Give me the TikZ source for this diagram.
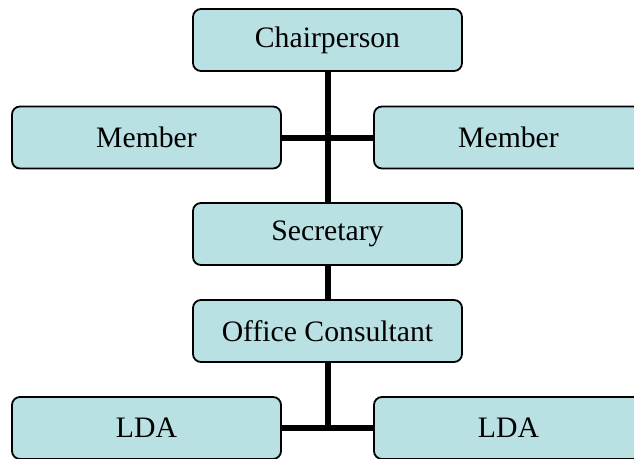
\documentclass[tikz,border=0pt]{standalone}
\usepackage{fontspec}
\setmainfont{Liberation Serif}
\usetikzlibrary{backgrounds}
\definecolor{boxfill}{RGB}{185,224,227}
\begin{document}
\begin{tikzpicture}[x=1pt,y=1pt,
  orgbox/.style={draw=black, line width=1.8pt, fill=boxfill, rounded corners=8pt,
    minimum width=269pt, minimum height=62pt, inner sep=0pt,
    font=\fontsize{29.7}{34}\selectfont},
  link/.style={line width=6pt, black}]
\clip (0,0) rectangle (634,-458);
\path[use as bounding box] (0,0) rectangle (634,-458);
\node[orgbox] (chair) at (327.5,-40) {Chairperson};
\node[orgbox] (memL) at (146.5,-137.5) {Member};
\node[orgbox] (memR) at (508.5,-137.5) {Member};
\node[orgbox] (sec) at (327.5,-234) {Secretary};
\node[orgbox] (off) at (327.5,-331) {Office Consultant};
\node[orgbox] (ldaL) at (146.5,-428) {LDA};
\node[orgbox] (ldaR) at (508.5,-428) {LDA};
\begin{scope}[on background layer]
\draw[link] (chair.south) -- (sec.north);
\draw[link] (memL.east) -- (memR.west);
\draw[link] (sec.south) -- (off.north);
\draw[link] (off.south) -- (off.south |- ldaL.east);
\draw[link] (ldaL.east) -- (ldaR.west);
\end{scope}
\end{tikzpicture}
\end{document}
